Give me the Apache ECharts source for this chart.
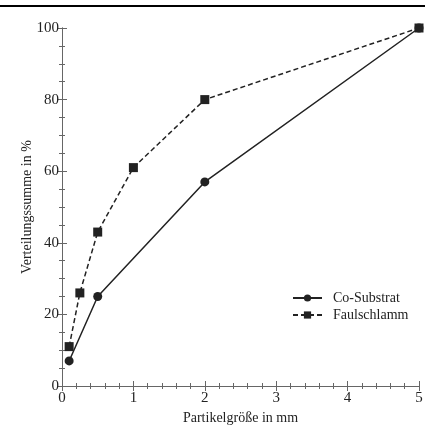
<!DOCTYPE html>
<html><head><meta charset="utf-8">
<script src="https://cdn.jsdelivr.net/npm/echarts@6/dist/echarts.min.js"></script>
<style>html,body{margin:0;padding:0;background:#fff}#c{width:429px;height:425px}</style>
</head><body><div id="c"></div>
<script>
const seriesNames = ['Co-Substrat', 'Faulschlamm'];
const coX = [0.1, 0.5, 2, 5];
const coY = [7, 25, 57, 100];
const fsX = [0.1, 0.25, 0.5, 1, 2, 5];
const fsY = [11, 26, 43, 61, 80, 100];
const xTicks = [0, 1, 2, 3, 4, 5];
const yTicks = [0, 20, 40, 60, 80, 100];

const font = 'Liberation Serif';
const ink = '#222';
const axisCol = '#666';

function axisBase(show) {
  return {
    type: 'value',
    axisLine: { show: true, lineStyle: { color: axisCol, width: 1 } },
    axisTick: { show: true, inside: true, length: 5, lineStyle: { color: axisCol } },
    splitLine: { show: false },
    axisLabel: { show: show, fontFamily: font, fontSize: 15, color: ink },
  };
}

const chart = echarts.init(document.getElementById('c'));
chart.setOption({
  animation: false,
  grid: { left: 62, right: 10, top: 28, bottom: 39, containLabel: false, outerBoundsMode: 'none' },
  graphic: [{ type: 'line', shape: { x1: 0, y1: 6, x2: 425, y2: 6 }, style: { stroke: '#000', lineWidth: 2 } }],
  legend: {
    orient: 'vertical', left: 287, top: 286, itemWidth: 29, itemHeight: 9, itemGap: 3,
    textStyle: { fontFamily: font, fontSize: 14, color: ink, padding: [0, 0, 0, 6] },
    data: seriesNames
  },
  xAxis: [
    Object.assign(axisBase(true), {
      min: xTicks[0], max: xTicks[xTicks.length - 1], interval: 1,
      minorTick: { show: true, splitNumber: 5, length: 3, lineStyle: { color: axisCol } },
      axisLabel: { fontFamily: font, fontSize: 15, color: ink, margin: 5 },
      name: 'Partikelgröße in mm', nameLocation: 'middle', nameGap: 25, nameMoveOverlap: false,
      nameTextStyle: { fontFamily: font, fontSize: 14, color: ink }
    }),
    Object.assign(axisBase(false), {
      position: 'top', min: 0, max: 5, interval: 1,
      minorTick: { show: true, splitNumber: 5, length: 3, lineStyle: { color: axisCol } }
    })
  ],
  yAxis: [
    Object.assign(axisBase(true), {
      min: yTicks[0], max: yTicks[yTicks.length - 1], interval: 20,
      minorTick: { show: true, splitNumber: 4, length: 3, lineStyle: { color: axisCol } },
      axisLabel: { fontFamily: font, fontSize: 15, color: ink, margin: 3 },
      name: 'Verteilungssumme in %', nameLocation: 'middle', nameGap: 28, nameMoveOverlap: false,
      nameTextStyle: { fontFamily: font, fontSize: 14, color: ink }
    }),
    Object.assign(axisBase(false), {
      position: 'right', min: 0, max: 100, interval: 20,
      minorTick: { show: true, splitNumber: 4, length: 3, lineStyle: { color: axisCol } }
    })
  ],
  series: [
    {
      name: seriesNames[0], type: 'line', data: coX.map((x, i) => [x, coY[i]]),
      symbol: 'circle', symbolSize: 9,
      lineStyle: { color: ink, width: 1.5, type: 'solid' },
      itemStyle: { color: ink }
    },
    {
      name: seriesNames[1], type: 'line', data: fsX.map((x, i) => [x, fsY[i]]),
      symbol: 'rect', symbolSize: 9,
      lineStyle: { color: ink, width: 1.5, type: [5, 3] },
      itemStyle: { color: ink }
    }
  ]
});
</script></body></html>
